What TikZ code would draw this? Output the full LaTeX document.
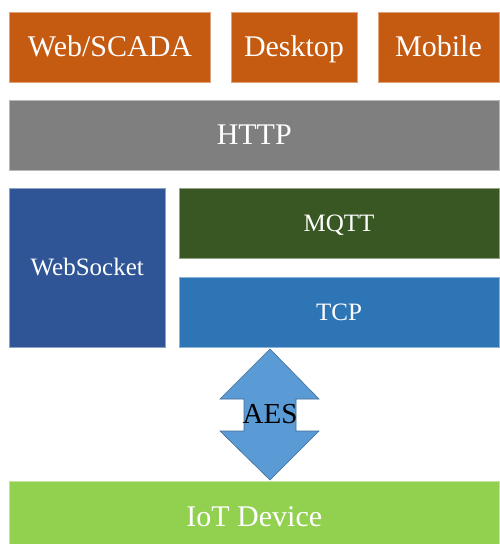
\documentclass[tikz,border=0pt]{standalone}
\usepackage{fontspec}
\setmainfont{Liberation Serif}
\usepackage{tikz}
\usetikzlibrary{positioning}
\definecolor{apporange}{HTML}{C55A11}
\definecolor{httpgray}{HTML}{7F7F7F}
\definecolor{wsblue}{HTML}{2F5597}
\definecolor{mqttgreen}{HTML}{385723}
\definecolor{tcpblue}{HTML}{2E75B6}
\definecolor{aesblue}{HTML}{5B9BD5}
\definecolor{iotgreen}{HTML}{92D050}
\tikzset{
  layer/.style={rectangle, inner sep=0pt, text=white, line width=0.6pt,
    draw=#1!55!white, fill=#1, font=\fontsize{30}{36}\selectfont,
    text height=19.8pt, text depth=0pt},
  small/.style={font=\fontsize{25}{30}\selectfont, text height=16.5pt}
}
\begin{document}
\begin{tikzpicture}[x=1pt, y=-1pt]
  \useasboundingbox (0,0) rectangle (499,544);
  % applications
  \node [layer=apporange, minimum width=201pt, minimum height=70pt] (web) at (110,47) {Web/SCADA};
  \node [layer=apporange, minimum width=126pt, minimum height=70pt] (desk) at (294,47) {Desktop};
  \node [layer=apporange, minimum width=121pt, minimum height=70pt] (mob) at (438.5,47) {Mobile};
  % protocols
  \node [layer=httpgray, minimum width=489.5pt, minimum height=70pt] (http) at (254.25,135) {HTTP};
  \node [layer=wsblue, small, minimum width=155.5pt, minimum height=159pt] (ws) at (87.25,267.5) {WebSocket};
  \node [layer=mqttgreen, small, minimum width=320pt, minimum height=70pt] (mqtt) at (339,223) {MQTT};
  \node [layer=tcpblue, small, minimum width=320pt, minimum height=70pt] (tcp) at (339,312) {TCP};
  % device
  \node [layer=iotgreen, text height=27.8pt, minimum width=489.5pt, minimum height=63pt] (iot) at (254.25,512.5) {IoT Device};
  % encryption
  \path [fill=aesblue, draw=aesblue!70!black, line width=0.6pt]
    (270,349) -- (319,399) -- (296,399) -- (296,431) -- (319,431) -- (270,480)
    -- (220,431) -- (244,431) -- (244,399) -- (220,399) -- cycle;
  \node [font=\fontsize{29}{35}\selectfont, inner sep=0pt, text height=19.1pt, text depth=0pt] (aes) at (270,414) {AES};
\end{tikzpicture}
\end{document}
